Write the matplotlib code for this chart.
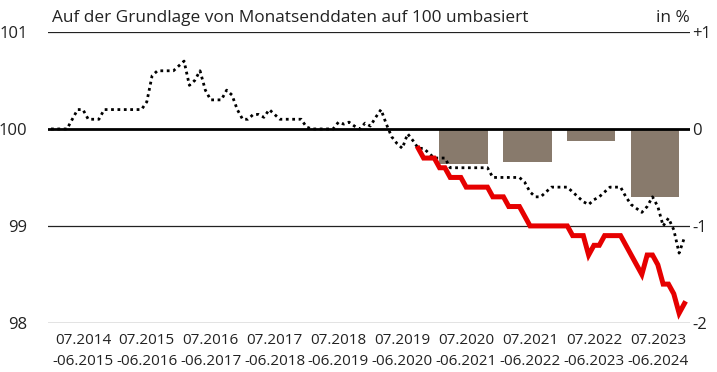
import numpy as np
import matplotlib
matplotlib.use("Agg")
import matplotlib.pyplot as plt

plt.rcParams["font.family"] = ["Open Sans", "DejaVu Sans"]

# monthly index (07.2014 = 0 ... 06.2024 = 119)
months = np.arange(120)

# dotted series, rebased to 100
index_values = [
    100.0, 100.0, 100.0, 100.0, 100.1, 100.2, 100.2, 100.1, 100.1, 100.1,
    100.2, 100.2, 100.2, 100.2, 100.2, 100.2, 100.2, 100.2, 100.28, 100.55,
    100.6, 100.6, 100.6, 100.6, 100.65, 100.7, 100.45, 100.5, 100.6, 100.4,
    100.3, 100.3, 100.3, 100.4, 100.35, 100.2, 100.1, 100.1, 100.15, 100.15,
    100.12, 100.2, 100.15, 100.1, 100.1, 100.1, 100.1, 100.1, 100.02, 100.0,
    100.0, 100.0, 100.0, 100.0, 100.07, 100.05, 100.07, 100.03, 100.0, 100.06,
    100.03, 100.12, 100.2, 100.05, 99.92, 99.85, 99.8, 99.95, 99.88, 99.8,
    99.8, 99.75, 99.7, 99.7, 99.7, 99.6, 99.6, 99.6, 99.6, 99.6,
    99.6, 99.6, 99.6, 99.5, 99.5, 99.5, 99.5, 99.5, 99.5, 99.45,
    99.35, 99.3, 99.3, 99.35, 99.4, 99.4, 99.4, 99.4, 99.35, 99.3,
    99.25, 99.22, 99.27, 99.3, 99.35, 99.4, 99.4, 99.4, 99.3, 99.22,
    99.18, 99.14, 99.2, 99.3, 99.2, 99.0, 99.08, 98.96, 98.72, 98.88,
]

# red series, starts 04.2020
red_start = 69
red_values = [
    99.8, 99.7, 99.7, 99.7, 99.6, 99.6, 99.5, 99.5, 99.5, 99.4,
    99.4, 99.4, 99.4, 99.4, 99.3, 99.3, 99.3, 99.2, 99.2, 99.2,
    99.1, 99.0, 99.0, 99.0, 99.0, 99.0, 99.0, 99.0, 99.0, 98.9,
    98.9, 98.9, 98.7, 98.8, 98.8, 98.9, 98.9, 98.9, 98.9, 98.8,
    98.7, 98.6, 98.5, 98.7, 98.7, 98.6, 98.4, 98.4, 98.3, 98.1,
    98.2,
]

# yearly differences in % (right axis)
bar_years = [6, 7, 8, 9]
bar_values = [-0.36, -0.34, -0.12, -0.70]

period_labels = [
    "07.2014\n-06.2015", "07.2015\n-06.2016", "07.2016\n-06.2017",
    "07.2017\n-06.2018", "07.2018\n-06.2019", "07.2019\n-06.2020",
    "07.2020\n-06.2021", "07.2021\n-06.2022", "07.2022\n-06.2023",
    "07.2023\n-06.2024",
]

fig = plt.figure(figsize=(7.17, 3.72), dpi=100)
ax = fig.add_axes([0.0674, 0.132, 0.8946, 0.782])
ax2 = ax.twinx()
ax.set_zorder(ax2.get_zorder() + 1)
ax.patch.set_visible(False)

# bars on the right scale
bar_x = [12 * y + 5.5 for y in bar_years]
ax2.bar(bar_x, bar_values, width=9.1, color="#887a6c", zorder=1)
ax2.set_ylim(-2, 1)
ax2.set_yticks([1, 0, -1, -2])
ax2.set_yticklabels(["+1", "0", "-1", "-2"])

# horizontal reference lines
for lvl in [101, 99, 98]:
    ax.axhline(lvl, color="#222222", lw=0.9, zorder=1)
ax.axhline(100, color="black", lw=2.0, zorder=2)

ax.plot(months, index_values, color="black", lw=2.0,
        linestyle=(0, (1, 1.3)), zorder=3)
red_x = np.arange(red_start, red_start + len(red_values))
ax.plot(red_x, red_values, color="#e60000", lw=3.6, zorder=4,
        solid_joinstyle="miter")

ax.set_xlim(-0.5, 120)
ax.set_ylim(98, 101)
ax.set_yticks([98, 99, 100, 101])
ax.set_xticks([12 * k + 6 for k in range(10)])
ax.set_xticklabels(period_labels, linespacing=1.55)

for a in (ax, ax2):
    for s in a.spines.values():
        s.set_visible(False)
    a.tick_params(length=0, labelsize=12, colors="#222222")
ax.tick_params(axis="y", pad=15)
ax.tick_params(axis="x", labelsize=11, pad=7)
ax2.tick_params(axis="y", pad=2)

fig.text(0.0725, 0.94, "Auf der Grundlage von Monatsenddaten auf 100 umbasiert",
         fontsize=12.4, color="#222222", va="baseline")
fig.text(0.962, 0.94, "in %", fontsize=12.4, color="#222222",
         va="baseline", ha="right")

fig.savefig("out.png", dpi=100)
